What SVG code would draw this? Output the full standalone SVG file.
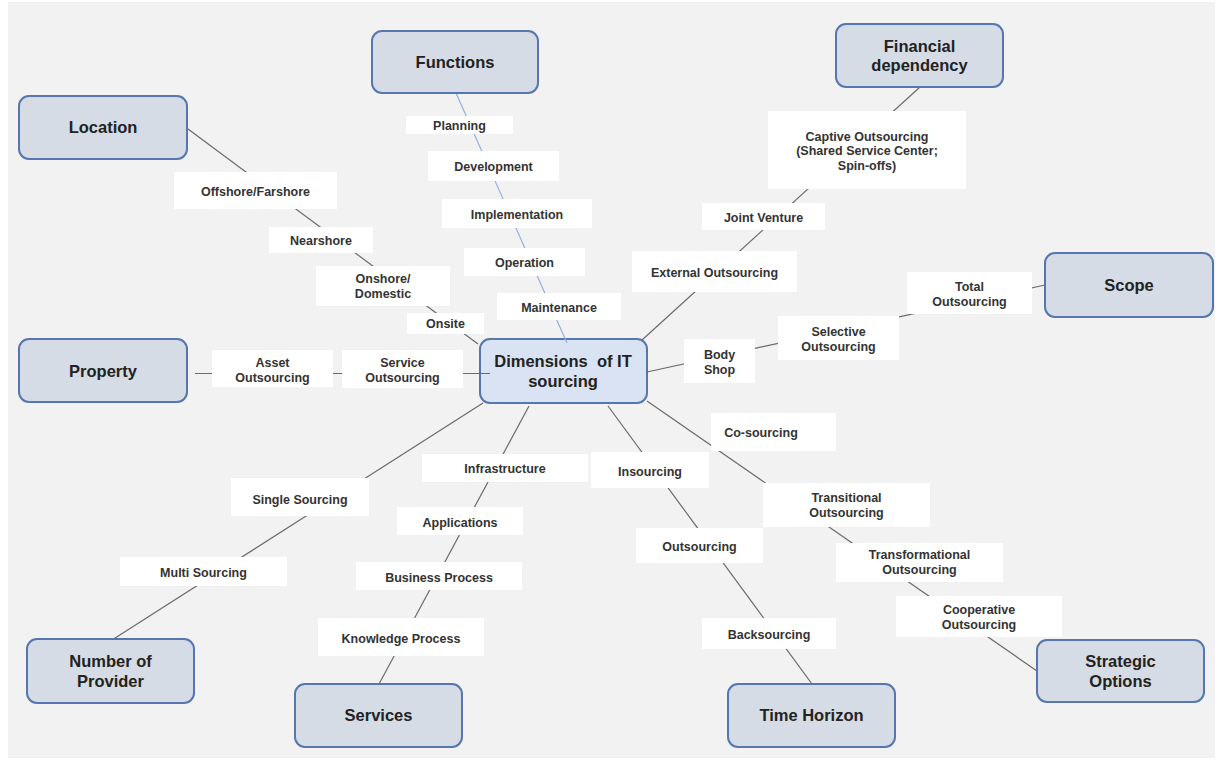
<svg xmlns="http://www.w3.org/2000/svg" width="1221" height="761" viewBox="0 0 1221 761">
<style>
.node rect{fill:#d6dce5;stroke:#5676b0;stroke-width:2}
#center rect{fill:#dae3f3;stroke:#5676b0;stroke-width:2}
.title{font-family:"Liberation Sans",Arial,sans-serif;font-weight:bold;font-size:16.5px;fill:#222;text-anchor:middle}
.lbl rect{fill:#fff}
.lbl text{font-family:"Liberation Sans",Arial,sans-serif;font-weight:bold;font-size:12.5px;fill:#333;text-anchor:middle}
.conn line{stroke:#6a6a6a;stroke-width:1.2}
.conn line.blue{stroke:#8fb0e0}
</style>
<rect x="0" y="0" width="1221" height="761" fill="#fff"/>
<rect x="8" y="2" width="1207" height="756" fill="#f2f2f2"/>

<g id="center" class="node"><rect x="480" y="339" width="167" height="64" rx="10"/><text class="title" x="563" y="367">Dimensions&#160; of IT</text><text class="title" x="563" y="387">sourcing</text></g>

<g id="connectors" class="conn">
<line class="blue" x1="456" y1="93" x2="567" y2="343"/>
<line x1="188" y1="129" x2="478" y2="344"/>
<line x1="920" y1="87" x2="642" y2="340"/>
<line x1="1045" y1="285" x2="647" y2="372"/>
<line x1="195" y1="373.5" x2="490" y2="373.5"/>
<line x1="112" y1="640" x2="483" y2="403"/>
<line x1="379" y1="684" x2="529" y2="406"/>
<line x1="812" y1="684" x2="608" y2="406"/>
<line x1="1037" y1="671" x2="647" y2="401"/>
</g>

<g id="functions" class="node"><rect x="372" y="31" width="166" height="62" rx="10"/><text class="title" x="455" y="68">Functions</text></g>
<g id="financial" class="node"><rect x="836" y="24" width="167" height="63" rx="10"/><text class="title" x="919.5" y="52">Financial</text><text class="title" x="919.5" y="71">dependency</text></g>
<g id="location" class="node"><rect x="19" y="96" width="168" height="63" rx="10"/><text class="title" x="103" y="133">Location</text></g>
<g id="scope" class="node"><rect x="1045" y="253" width="168" height="64" rx="10"/><text class="title" x="1129" y="291">Scope</text></g>
<g id="property" class="node"><rect x="19" y="339" width="168" height="63" rx="10"/><text class="title" x="103" y="377">Property</text></g>
<g id="provider" class="node"><rect x="27" y="639" width="167" height="64" rx="10"/><text class="title" x="110.5" y="667">Number of</text><text class="title" x="110.5" y="687">Provider</text></g>
<g id="services" class="node"><rect x="295" y="684" width="167" height="63" rx="10"/><text class="title" x="378.5" y="721">Services</text></g>
<g id="time" class="node"><rect x="728" y="684" width="167" height="63" rx="10"/><text class="title" x="811.5" y="721">Time Horizon</text></g>
<g id="strategic" class="node"><rect x="1037" y="640" width="167" height="62" rx="10"/><text class="title" x="1120.5" y="667">Strategic</text><text class="title" x="1120.5" y="687">Options</text></g>

<g id="planning" class="lbl"><rect x="406" y="116" width="107" height="18"/><text x="459.5" y="130">Planning</text></g>
<g id="development" class="lbl"><rect x="428" y="151" width="131" height="30"/><text x="493.5" y="171">Development</text></g>
<g id="implementation" class="lbl"><rect x="442" y="199" width="150" height="29"/><text x="517" y="218.5">Implementation</text></g>
<g id="operation" class="lbl"><rect x="464" y="248" width="121" height="28"/><text x="524.5" y="267">Operation</text></g>
<g id="maintenance" class="lbl"><rect x="497" y="293" width="124" height="27"/><text x="559" y="311.5">Maintenance</text></g>
<g id="captive" class="lbl"><rect x="768" y="111" width="198" height="78"/><text x="867" y="140.5">Captive Outsourcing</text><text x="867" y="155">(Shared Service Center;</text><text x="867" y="169.5">Spin-offs)</text></g>
<g id="joint" class="lbl"><rect x="702" y="203" width="123" height="27"/><text x="763.5" y="221.5">Joint Venture</text></g>
<g id="external" class="lbl"><rect x="632" y="251" width="165" height="41"/><text x="714.5" y="276.5">External Outsourcing</text></g>
<g id="offshore" class="lbl"><rect x="174" y="172" width="163" height="37"/><text x="255.5" y="196">Offshore/Farshore</text></g>
<g id="nearshore" class="lbl"><rect x="269" y="227" width="104" height="26"/><text x="321" y="245">Nearshore</text></g>
<g id="onshore" class="lbl"><rect x="316" y="266" width="134" height="40"/><text x="383" y="283">Onshore/</text><text x="383" y="298">Domestic</text></g>
<g id="onsite" class="lbl"><rect x="407" y="313" width="77" height="21"/><text x="445.5" y="328">Onsite</text></g>
<g id="asset" class="lbl"><rect x="212" y="350" width="121" height="37"/><text x="272.5" y="367">Asset</text><text x="272.5" y="382">Outsourcing</text></g>
<g id="service" class="lbl"><rect x="342" y="350" width="121" height="38"/><text x="402.5" y="367">Service</text><text x="402.5" y="382">Outsourcing</text></g>
<g id="bodyshop" class="lbl"><rect x="684" y="339" width="71" height="44"/><text x="719.5" y="359">Body</text><text x="719.5" y="374">Shop</text></g>
<g id="selective" class="lbl"><rect x="778" y="316" width="121" height="44"/><text x="838.5" y="336">Selective</text><text x="838.5" y="351">Outsourcing</text></g>
<g id="total" class="lbl"><rect x="907" y="272" width="125" height="42"/><text x="969.5" y="291">Total</text><text x="969.5" y="306">Outsourcing</text></g>
<g id="cosourcing" class="lbl"><rect x="711" y="413" width="125" height="38"/><text x="761" y="437">Co-sourcing</text></g>
<g id="infrastructure" class="lbl"><rect x="422" y="454" width="166" height="28"/><text x="505" y="473">Infrastructure</text></g>
<g id="insourcing" class="lbl"><rect x="591" y="452" width="118" height="36"/><text x="650" y="475.5">Insourcing</text></g>
<g id="transitional" class="lbl"><rect x="763" y="483" width="167" height="44"/><text x="846.5" y="502">Transitional</text><text x="846.5" y="517">Outsourcing</text></g>
<g id="single" class="lbl"><rect x="231" y="478" width="138" height="38"/><text x="300" y="503.5">Single Sourcing</text></g>
<g id="applications" class="lbl"><rect x="397" y="507" width="126" height="28"/><text x="460" y="526.5">Applications</text></g>
<g id="multi" class="lbl"><rect x="120" y="557" width="167" height="29"/><text x="203.5" y="577">Multi Sourcing</text></g>
<g id="business" class="lbl"><rect x="356" y="562" width="166" height="28"/><text x="439" y="581.5">Business Process</text></g>
<g id="knowledge" class="lbl"><rect x="318" y="618" width="166" height="38"/><text x="401" y="642.5">Knowledge Process</text></g>
<g id="outsourcing" class="lbl"><rect x="636" y="528" width="127" height="35"/><text x="699.5" y="551">Outsourcing</text></g>
<g id="backsourcing" class="lbl"><rect x="702" y="618" width="134" height="31"/><text x="769" y="639">Backsourcing</text></g>
<g id="transformational" class="lbl"><rect x="836" y="543" width="167" height="39"/><text x="919.5" y="559">Transformational</text><text x="919.5" y="574">Outsourcing</text></g>
<g id="cooperative" class="lbl"><rect x="896" y="596" width="166" height="41"/><text x="979" y="613.5">Cooperative</text><text x="979" y="628.5">Outsourcing</text></g>
</svg>
